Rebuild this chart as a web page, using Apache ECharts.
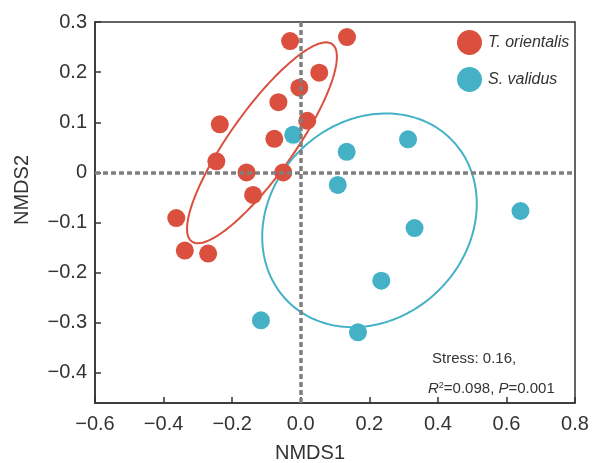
<!DOCTYPE html>
<html>
<head>
<meta charset="utf-8">
<script src="https://cdn.jsdelivr.net/npm/echarts@6/dist/echarts.min.js"></script>
<style>html,body{margin:0;padding:0;background:#fff}#c{width:592px;height:463px}</style>
</head>
<body>
<div id="c"></div>
<script>
// Data (NMDS1, NMDS2)
var tOrientalisX = [-0.031, 0.135, 0.054, -0.004, -0.065, -0.236, 0.019, -0.077, -0.246, -0.158, -0.051, -0.139, -0.363, -0.338, -0.270];
var tOrientalisY = [0.262, 0.270, 0.199, 0.169, 0.140, 0.096, 0.103, 0.067, 0.022, 0.000, 0.000, -0.045, -0.091, -0.156, -0.162];
var sValidusX = [-0.022, 0.134, 0.313, 0.108, 0.641, 0.332, 0.235, -0.116, 0.167];
var sValidusY = [0.075, 0.041, 0.066, -0.025, -0.077, -0.111, -0.216, -0.295, -0.319];

// Confidence ellipses: centre, semi-major vector, semi-minor vector (data units)
var tOrientalisEllipse = [-0.113, 0.059, 0.2047, 0.197, 0.0766, -0.0369];
var sValidusEllipse = [0.2006, -0.0956, 0.2377, 0.162, 0.2035, -0.1386];

var xTickValues = [-0.6, -0.4, -0.2, 0, 0.2, 0.4, 0.6, 0.8];
var xTickLabels = ['\u22120.6', '\u22120.4', '\u22120.2', '0.0', '0.2', '0.4', '0.6', '0.8'];
var yTickValues = [0.3, 0.2, 0.1, 0, -0.1, -0.2, -0.3, -0.4];
var yTickLabels = ['0.3', '0.2', '0.1', '0', '\u22120.1', '\u22120.2', '\u22120.3', '\u22120.4'];

var seriesNames = ['T. orientalis', 'S. validus'];
var RED = '#db4f3e', BLUE = '#44b1c6';
var FONT = 'Liberation Sans, Arial, Helvetica, sans-serif';

function pairs(xs, ys) { return xs.map(function (x, i) { return [x, ys[i]]; }); }
function ellipse(p) {
  var pts = [];
  for (var k = 0; k <= 180; k++) {
    var t = 2 * Math.PI * k / 180, c = Math.cos(t), s = Math.sin(t);
    pts.push([p[0] + c * p[2] + s * p[4], p[1] + c * p[3] + s * p[5]]);
  }
  return pts;
}
function lookup(vals, labels) {
  return function (v) {
    for (var i = 0; i < vals.length; i++) if (Math.abs(vals[i] - v) < 1e-6) return labels[i];
    return '';
  };
}

var chart = echarts.init(document.getElementById('c'), null, { renderer: 'canvas' });
chart.setOption({
  animation: false,
  backgroundColor: '#fff',
  grid: { left: 95, right: 17, top: 22, bottom: 60, show: true, borderColor: '#333', borderWidth: 1.5, backgroundColor: 'transparent' },
  legend: {
    data: seriesNames,
    orient: 'vertical',
    left: 457, top: 30, padding: 0,
    itemWidth: 25, itemHeight: 25, itemGap: 12,
    icon: 'circle',
    textStyle: { fontFamily: FONT, fontSize: 16, fontStyle: 'italic', color: '#333', padding: [0, 0, 0, 1] }
  },
  xAxis: {
    type: 'value', min: -0.6, max: 0.8, interval: 0.2,
    splitLine: { show: false },
    axisLine: { onZero: false, lineStyle: { color: '#333', width: 1.5 } },
    axisTick: { inside: true, length: 6, lineStyle: { color: '#333', width: 1.5 } },
    axisLabel: { formatter: lookup(xTickValues, xTickLabels), fontFamily: FONT, fontSize: 20, color: '#333', margin: 11, showMaxLabel: true, showMinLabel: true }
  },
  yAxis: {
    type: 'value', min: -0.46, max: 0.3, splitNumber: 8,
    splitLine: { show: false },
    axisLine: { onZero: false, lineStyle: { color: '#333', width: 1.5 } },
    axisTick: { inside: true, length: 6, lineStyle: { color: '#333', width: 1.5 } },
    axisLabel: { formatter: lookup(yTickValues, yTickLabels), fontFamily: FONT, fontSize: 20, color: '#333', margin: 8, showMinLabel: false }
  },
  graphic: [
    { type: 'text', x: 310, y: 453, style: { text: 'NMDS1', font: '20px ' + FONT, fill: '#333', textAlign: 'center', textVerticalAlign: 'middle' } },
    { type: 'text', x: 22, y: 190, rotation: Math.PI / 2, style: { text: 'NMDS2', font: '20px ' + FONT, fill: '#333', textAlign: 'center', textVerticalAlign: 'middle' } },
    { type: 'text', x: 432, y: 359, style: { text: 'Stress: 0.16,', font: '15px ' + FONT, fill: '#333', textVerticalAlign: 'middle' } },
    { type: 'text', x: 428, y: 389, style: {
        text: '{i|R}{sup|2}{n|=0.098, }{i|P}{n|=0.001}',
        textVerticalAlign: 'middle',
        rich: {
          i: { fontFamily: FONT, fontSize: 15, fontStyle: 'italic', fill: '#333', color: '#333' },
          n: { fontFamily: FONT, fontSize: 15, fill: '#333', color: '#333' },
          sup: { fontFamily: FONT, fontSize: 9, fill: '#333', color: '#333', verticalAlign: 'top', padding: [0, 0, 7, 0] }
        }
      } }
  ],
  series: [
    {
      name: 'refLines', type: 'line', data: [], z: 1, silent: true,
      markLine: {
        silent: true, symbol: 'none', animation: false,
        label: { show: false },
        lineStyle: { color: '#7f7f7f', width: 3.5, type: [5, 3] },
        data: [{ xAxis: 0 }, { yAxis: 0 }]
      }
    },
    { name: 'ellipseT', type: 'line', data: ellipse(tOrientalisEllipse), showSymbol: false, symbol: 'none', smooth: false, z: 2, silent: true,
      lineStyle: { color: RED, width: 2 } },
    { name: 'ellipseS', type: 'line', data: ellipse(sValidusEllipse), showSymbol: false, symbol: 'none', smooth: false, z: 2, silent: true,
      lineStyle: { color: BLUE, width: 2 } },
    { name: seriesNames[0], type: 'scatter', data: pairs(tOrientalisX, tOrientalisY), symbolSize: 18, z: 3,
      itemStyle: { color: RED, opacity: 1 } },
    { name: seriesNames[1], type: 'scatter', data: pairs(sValidusX, sValidusY), symbolSize: 18, z: 3,
      itemStyle: { color: BLUE, opacity: 1 } }
  ]
});
</script>
</body>
</html>
